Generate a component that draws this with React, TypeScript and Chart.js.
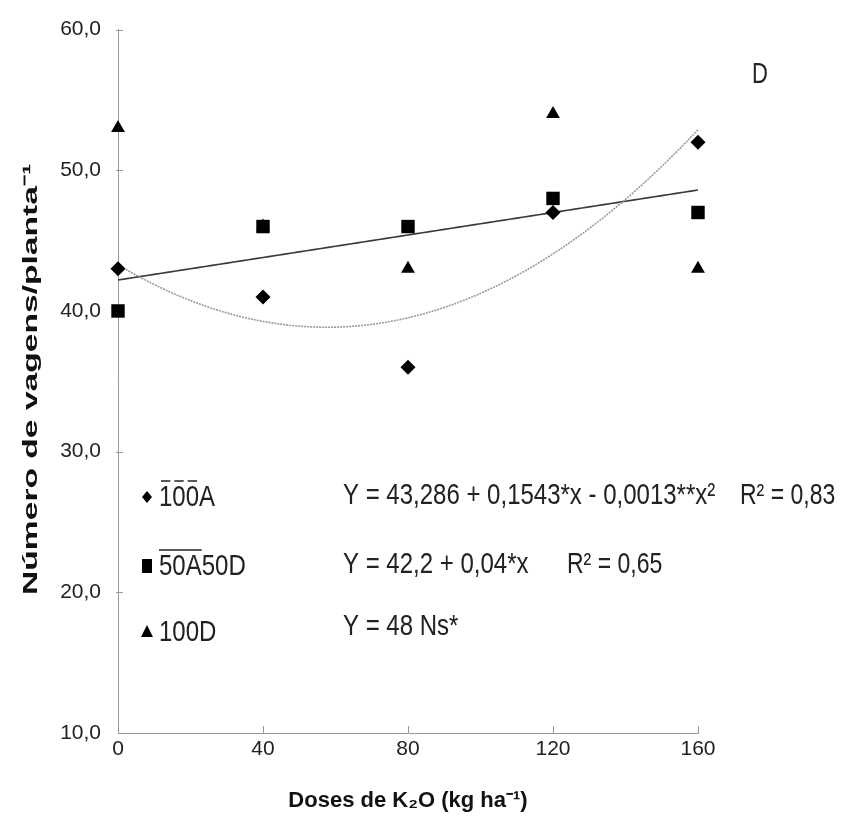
import React, { useEffect, useRef } from 'react';
import { Chart, registerables } from 'chart.js';
Chart.register(...registerables);

// ---- data ----
const doses = [0, 40, 80, 120, 160];
const v100A = [43, 41, 36, 47, 52];
const v50A50D = [40, 46, 46, 48, 47];
const v100D = [53, 46, 43, 54, 43];
const seriesLabels = ['100A', '50A50D', '100D'];
const equations = [
  'Y = 43,286 + 0,1543*x - 0,0013**x²',
  'Y = 42,2 + 0,04*x',
  'Y = 48 Ns*',
];
const r2Labels = ['R² = 0,83', 'R² = 0,65', ''];
const panelLetter = 'D';
const xTitle = 'Doses de K₂O (kg ha⁻¹)';
const yTitle = 'Número de vagens/planta⁻¹';
const yMin = 10, yMax = 60, yStep = 10;
const xMin = 0, xMax = 160, xStep = 40;

// least squares polynomial fit (degree 1 or 2)
function polyfit(xs: number[], ys: number[], deg: number): number[] {
  const n = deg + 1;
  const A: number[][] = [];
  for (let i = 0; i < n; i++) {
    A.push([]);
    for (let j = 0; j < n; j++) A[i].push(xs.reduce((s, x) => s + Math.pow(x, i + j), 0));
    A[i].push(xs.reduce((s, x, k) => s + Math.pow(x, i) * ys[k], 0));
  }
  for (let i = 0; i < n; i++) {
    let p = i;
    for (let r = i + 1; r < n; r++) if (Math.abs(A[r][i]) > Math.abs(A[p][i])) p = r;
    [A[i], A[p]] = [A[p], A[i]];
    for (let r = 0; r < n; r++) {
      if (r === i) continue;
      const f = A[r][i] / A[i][i];
      for (let c = i; c <= n; c++) A[r][c] -= f * A[i][c];
    }
  }
  return A.map((row, i) => row[n] / row[i]);
}
function fitCurve(coef: number[]) {
  const pts: { x: number; y: number }[] = [];
  for (let x = xMin; x <= xMax; x += 2) {
    pts.push({ x, y: coef.reduce((s, c, i) => s + c * Math.pow(x, i), 0) });
  }
  return pts;
}

const FONT = '"Liberation Sans", Arial, sans-serif';

function stretchedText(ctx: CanvasRenderingContext2D, text: string, x: number, y: number, font: string, sy: number) {
  ctx.save();
  ctx.font = font;
  ctx.translate(x, y);
  ctx.scale(1, sy);
  ctx.fillText(text, 0, 0);
  ctx.restore();
}

const inwardTicks = {
  id: 'inwardTicks',
  beforeDatasetsDraw(chart: any) {
    const ctx = chart.ctx as CanvasRenderingContext2D;
    const { chartArea } = chart;
    const xs = chart.scales.x, ys = chart.scales.y;
    ctx.save();
    ctx.strokeStyle = '#999';
    ctx.lineWidth = 1;
    for (let v = xMin + xStep; v <= xMax; v += xStep) {
      const px = Math.round(xs.getPixelForValue(v)) + 0.5;
      ctx.beginPath(); ctx.moveTo(px, chartArea.bottom); ctx.lineTo(px, chartArea.bottom - 7); ctx.stroke();
    }
    for (let v = yMin + yStep; v <= yMax; v += yStep) {
      const py = Math.round(ys.getPixelForValue(v)) + 0.5;
      ctx.beginPath(); ctx.moveTo(chartArea.left - 2, py); ctx.lineTo(chartArea.left + 5, py); ctx.stroke();
    }
    ctx.restore();
  },
};

const annotations = {
  id: 'annotations',
  afterDraw(chart: any) {
    const ctx = chart.ctx as CanvasRenderingContext2D;
    const { chartArea } = chart;
    ctx.save();
    ctx.fillStyle = '#222';
    ctx.textBaseline = 'middle';
    ctx.textAlign = 'left';
    // y axis title (stretched along its length)
    ctx.save();
    ctx.fillStyle = '#111';
    ctx.translate(31, (chartArea.top + chartArea.bottom) / 2 - 2);
    ctx.rotate(-Math.PI / 2);
    ctx.scale(1.6, 1);
    ctx.font = `bold 21px ${FONT}`;
    ctx.textAlign = 'center';
    ctx.fillText(yTitle, 0, 0);
    ctx.restore();
    // panel letter
    stretchedText(ctx, panelLetter, 752, 75, `22px ${FONT}`, 1.3);
    // legend
    const rows = [497, 566, 632];
    const mx = 147;
    ctx.fillStyle = '#000';
    ctx.beginPath();
    ctx.moveTo(mx, rows[0] - 6); ctx.lineTo(mx + 5, rows[0]); ctx.lineTo(mx, rows[0] + 6); ctx.lineTo(mx - 5, rows[0]);
    ctx.closePath(); ctx.fill();
    ctx.fillRect(mx - 5, rows[1] - 7, 10, 14);
    ctx.beginPath();
    ctx.moveTo(mx, rows[2] - 7); ctx.lineTo(mx + 6, rows[2] + 5); ctx.lineTo(mx - 6, rows[2] + 5);
    ctx.closePath(); ctx.fill();
    ctx.fillStyle = '#222';
    const lx = 159;
    const lf = `24px ${FONT}`;
    seriesLabels.forEach((s, i) => stretchedText(ctx, s, lx, rows[i] + 1, lf, 1.25));
    // overlines
    ctx.font = lf;
    ctx.strokeStyle = '#222';
    ctx.lineWidth = 1.5;
    const top0 = rows[0] - 16;
    for (let k = 0; k < 3; k++) {
      const a = lx + ctx.measureText(seriesLabels[0].slice(0, k)).width;
      const b = lx + ctx.measureText(seriesLabels[0].slice(0, k + 1)).width;
      ctx.beginPath(); ctx.moveTo(a + 2, top0); ctx.lineTo(b - 2, top0); ctx.stroke();
    }
    const top1 = rows[1] - 16;
    const w1 = ctx.measureText(seriesLabels[1].slice(0, 3)).width;
    ctx.beginPath(); ctx.moveTo(lx, top1); ctx.lineTo(lx + w1, top1); ctx.stroke();
    // equations
    const ef = `24px ${FONT}`;
    const ex = 343;
    const eqRows = [496, 565, 627];
    const r2x = [740, 567];
    equations.forEach((e, i) => stretchedText(ctx, e, ex, eqRows[i], ef, 1.25));
    r2Labels.forEach((r, i) => { if (r) stretchedText(ctx, r, r2x[i], eqRows[i], `23px ${FONT}`, 1.25); });
    ctx.restore();
  },
};

export default function App() {
  const ref = useRef<HTMLCanvasElement>(null);
  useEffect(() => {
    if (!ref.current) return;
    const quad = polyfit(doses, v100A, 2);
    const lin = polyfit(doses, v50A50D, 1);
    const pts = (arr: number[]) => doses.map((x, i) => ({ x, y: arr[i] }));
    const chart = new Chart(ref.current, {
      type: 'scatter',
      data: {
        datasets: [
          { label: '100A', data: pts(v100A), pointStyle: 'rectRot', pointRadius: 7.5, backgroundColor: '#000', borderColor: '#000', borderWidth: 0, order: 1, clip: false } as any,
          { label: '50A50D', data: pts(v50A50D), pointStyle: 'rect', pointRadius: 9.5, backgroundColor: '#000', borderColor: '#000', borderWidth: 0, order: 1, clip: false } as any,
          { label: '100D', data: pts(v100D), pointStyle: 'triangle', pointRadius: 8, backgroundColor: '#000', borderColor: '#000', borderWidth: 0, order: 1, clip: false } as any,
          { type: 'line', label: 'fit100A', data: fitCurve(quad), borderColor: '#9a9a9a', borderWidth: 1.6, borderDash: [2, 1], pointRadius: 0, fill: false, order: 2, clip: false } as any,
          { type: 'line', label: 'fit50A50D', data: fitCurve(lin), borderColor: '#3a3a3a', borderWidth: 1.6, pointRadius: 0, fill: false, order: 2, clip: false } as any,
        ],
      },
      options: {
        responsive: false,
        animation: false,
        layout: { padding: { left: 0, top: 27, right: 147, bottom: 0 } },
        plugins: { legend: { display: false }, tooltip: { enabled: false } },
        scales: {
          x: {
            type: 'linear', min: xMin, max: xMax,
            grid: { display: true, drawOnChartArea: false, drawTicks: false },
            border: { color: '#999', width: 1 },
            ticks: { stepSize: xStep, padding: 4, color: '#222', font: { family: FONT, size: 21 } },
            title: { display: true, text: xTitle, color: '#111', font: { family: FONT, size: 22, weight: 'bold' }, padding: { top: 0, bottom: 18 } },
            afterFit: (s: any) => { s.height = 99; },
          },
          y: {
            min: yMin, max: yMax,
            grid: { display: true, drawOnChartArea: false, drawTicks: false },
            border: { color: '#999', width: 1 },
            ticks: { stepSize: yStep, padding: 17, color: '#222', font: { family: FONT, size: 21 }, callback: (v: any) => Number(v).toFixed(1).replace('.', ',') },
            title: { display: false },
            afterFit: (s: any) => { s.width = 118; },
          },
        },
      },
      plugins: [inwardTicks, annotations],
    });
    return () => chart.destroy();
  }, []);
  return (
    <div style={{ position: 'absolute', left: 0, top: 0, width: 845, height: 832, background: '#fff' }}>
      <canvas ref={ref} width={845} height={832} />
    </div>
  );
}
